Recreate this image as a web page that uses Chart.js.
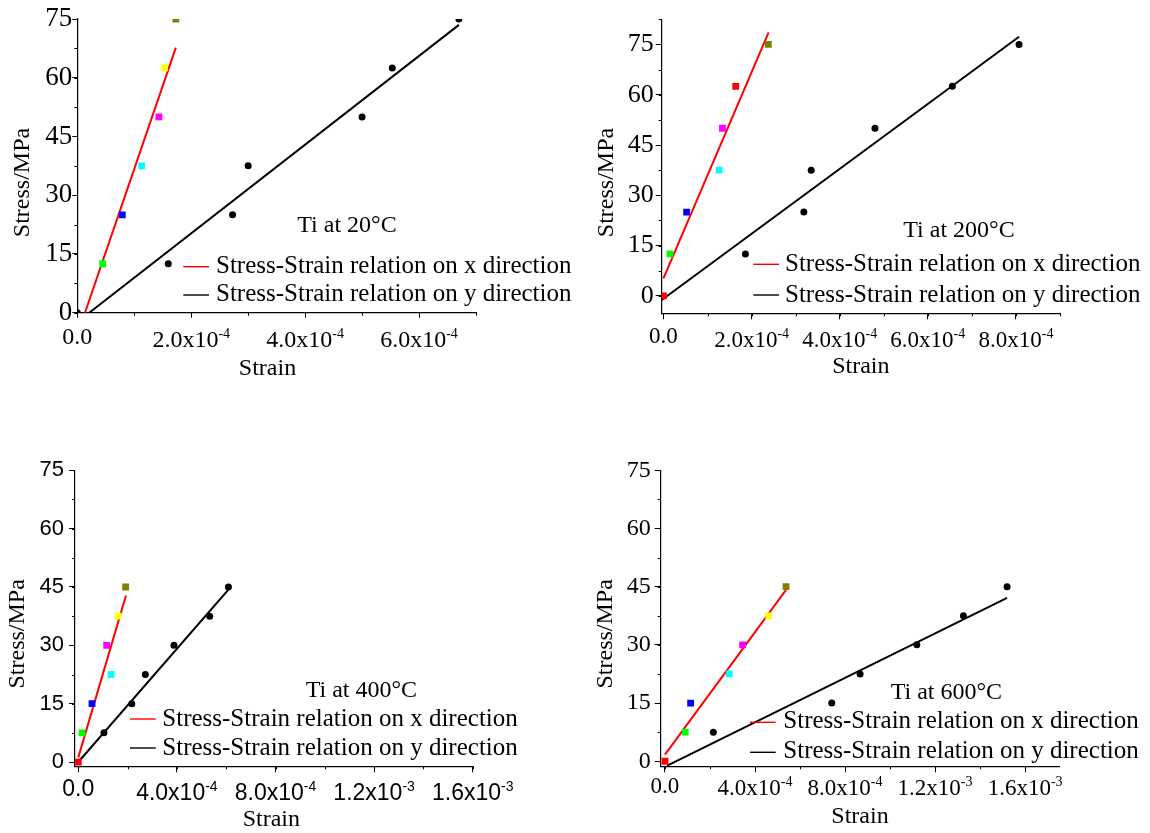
<!DOCTYPE html>
<html>
<head>
<meta charset="utf-8">
<script src="https://cdn.jsdelivr.net/npm/chart.js@4.4.1/dist/chart.umd.min.js"></script>
<style>
  html, body { margin:0; padding:0; background:#fff; }
  .panel { position:absolute; }
</style>
</head>
<body>
<div class="panel" style="left:0px;top:0px;width:575px;height:400px"><canvas id="c20"></canvas></div>
<div class="panel" style="left:580px;top:0px;width:570px;height:400px"><canvas id="c200"></canvas></div>
<div class="panel" style="left:0px;top:443px;width:575px;height:390px"><canvas id="c400"></canvas></div>
<div class="panel" style="left:580px;top:443px;width:570px;height:390px"><canvas id="c600"></canvas></div>
<script>
// Ti stress-strain, four temperatures (Origin-style panels)

const SERIF = "'Liberation Serif', 'Times New Roman', serif";
const SANS = "'Liberation Sans', Arial, sans-serif";

// --- MARKER COLOURS (Origin palette) ---
const RED = '#ff0000', GREEN = '#00ff00', BLUE = '#0000ff', CYAN = '#00ffff',
      MAGENTA = '#ff00ff', YELLOW = '#ffff00', OLIVE = '#808000', BLACK = '#000000';

const legendText = ['Stress-Strain relation on x direction', 'Stress-Strain relation on y direction'];

// --- Ti at 20°C ---
const strainX20 = [0.445e-4, 0.79e-4, 1.13e-4, 1.433e-4, 1.533e-4, 1.73e-4];
const stressX20 = [12.5, 25, 37.5, 50, 62.5, 75];
const colorsX20 = [GREEN, BLUE, CYAN, MAGENTA, YELLOW, OLIVE];
const strainY20 = [0, 1.597e-4, 2.726e-4, 3.0e-4, 5.0e-4, 5.53e-4, 6.70e-4];
const stressY20 = [0, 12.5, 25, 37.5, 50, 62.5, 75];
const fitStrainX20 = [0.135e-4, 1.73e-4], fitStressX20 = [0, 67.7];
const fitStrainY20 = [0.21e-4, 6.70e-4], fitStressY20 = [0, 73.5];
const xTicks20 = [0, 2e-4, 4e-4, 6e-4];
const xLabels20 = ['0.0', '2.0x10^-4', '4.0x10^-4', '6.0x10^-4'];
const yTicks20 = [0, 15, 30, 45, 60, 75];

// --- Ti at 200°C ---
const strainX200 = [0, 0.147e-4, 0.525e-4, 1.263e-4, 1.339e-4, 1.64e-4, 2.38e-4];
const stressX200 = [0, 12.5, 25, 37.5, 50, 62.5, 75];
const colorsX200 = [RED, GREEN, BLUE, CYAN, MAGENTA, RED, OLIVE];
const strainY200 = [1.86e-4, 3.186e-4, 3.353e-4, 4.80e-4, 6.557e-4, 8.07e-4];
const stressY200 = [12.5, 25, 37.5, 50, 62.5, 75];
const fitStrainX200 = [0, 2.387e-4], fitStressX200 = [5.2, 78.6];
const fitStrainY200 = [-0.04e-4, 8.07e-4], fitStressY200 = [-1.25, 77.3];
const xTicks200 = [0, 2e-4, 4e-4, 6e-4, 8e-4];
const xLabels200 = ['0.0', '2.0x10^-4', '4.0x10^-4', '6.0x10^-4', '8.0x10^-4'];
const yTicks200 = [0, 15, 30, 45, 60, 75];

// --- Ti at 400°C ---
const strainX400 = [0, 0.15e-4, 0.556e-4, 1.33e-4, 1.15e-4, 1.62e-4, 1.92e-4];
const stressX400 = [0, 7.5, 15, 22.5, 30, 37.5, 45];
const colorsX400 = [RED, GREEN, BLUE, CYAN, MAGENTA, YELLOW, OLIVE];
const strainY400 = [1.04e-4, 2.17e-4, 2.72e-4, 3.88e-4, 5.33e-4, 6.09e-4];
const stressY400 = [7.5, 15, 22.5, 30, 37.5, 45];
const fitStrainX400 = [0, 1.935e-4], fitStressX400 = [1.2, 42.8];
const fitStrainY400 = [0, 6.09e-4], fitStressY400 = [0, 44.3];
const xTicks400 = [0, 4e-4, 8e-4, 1.2e-3, 1.6e-3];
const xLabels400 = ['0.0', '4.0x10^-4', '8.0x10^-4', '1.2x10^-3', '1.6x10^-3'];
const yTicks400 = [0, 15, 30, 45, 60, 75];

// --- Ti at 600°C ---
const strainX600 = [0, 0.9e-4, 1.14e-4, 2.86e-4, 3.45e-4, 4.61e-4, 5.38e-4];
const stressX600 = [0, 7.5, 15, 22.5, 30, 37.5, 45];
const colorsX600 = [RED, GREEN, BLUE, CYAN, MAGENTA, YELLOW, OLIVE];
const strainY600 = [2.15e-4, 7.41e-4, 8.67e-4, 1.119e-3, 1.326e-3, 1.52e-3];
const stressY600 = [7.5, 15, 22.5, 30, 37.5, 45];
const fitStrainX600 = [0, 5.38e-4], fitStressX600 = [1.7, 44.2];
const fitStrainY600 = [0.1e-4, 1.52e-3], fitStressY600 = [-1.1, 42.1];
const xTicks600 = [0, 4e-4, 8e-4, 1.2e-3, 1.6e-3];
const xLabels600 = ['0.0', '4.0x10^-4', '8.0x10^-4', '1.2x10^-3', '1.6x10^-3'];
const yTicks600 = [0, 15, 30, 45, 60, 75];

// --- HELPERS ---
const pts = (xs, ys) => xs.map((v, i) => ({ x: v, y: ys[i] }));

// minor ticks, superscript x labels, axis titles, tag and legend
const decor = {
  id: 'decor',
  afterDraw(chart, args, o) {
    const { ctx, chartArea: a, scales: { x, y } } = chart;
    ctx.save();
    ctx.strokeStyle = '#000';
    ctx.lineWidth = 1;
    ctx.beginPath();
    for (let k = Math.ceil(x.min / o.xMinor - 1e-6); k <= Math.floor(x.max / o.xMinor + 1e-6); k++) {
      const px = Math.round(x.getPixelForValue(k * o.xMinor)) + 0.5;
      ctx.moveTo(px, a.bottom); ctx.lineTo(px, a.bottom + 3);
    }
    for (let k = Math.ceil(y.min / o.yMinor - 1e-6); k <= Math.floor(y.max / o.yMinor + 1e-6); k++) {
      const py = Math.round(y.getPixelForValue(k * o.yMinor)) + 0.5;
      ctx.moveTo(a.left - 3, py); ctx.lineTo(a.left, py);
    }
    ctx.stroke();

    // x tick labels with superscript exponent
    ctx.fillStyle = '#000';
    ctx.textAlign = 'left';
    ctx.textBaseline = 'alphabetic';
    x.ticks.forEach((t, i) => {
      const [base, sup] = o.xLabels[i].split('^');
      const px = x.getPixelForValue(t.value);
      ctx.font = o.xFont + 'px ' + o.xFamily;
      const wb = ctx.measureText(base).width;
      let ws = 0;
      if (sup) { ctx.font = o.supFont + 'px ' + o.xFamily; ws = ctx.measureText(sup).width; }
      const left = px - (wb + ws) / 2;
      const by = a.bottom + (sup ? o.xSupBase : o.xBase);
      ctx.font = o.xFont + 'px ' + o.xFamily;
      ctx.fillText(base, left, by);
      if (sup) {
        ctx.font = o.supFont + 'px ' + o.xFamily;
        ctx.fillText(sup, left + wb, by - o.supRaise);
      }
    });

    // axis titles
    ctx.font = '24px ' + SERIF;
    ctx.textAlign = 'center';
    ctx.fillText('Strain', o.xTitle[0], o.xTitle[1]);
    ctx.save();
    ctx.translate(o.yTitle[0], o.yTitle[1]);
    ctx.rotate(-Math.PI / 2);
    ctx.fillText('Stress/MPa', 0, 0);
    ctx.restore();

    // temperature tag
    ctx.textAlign = 'left';
    ctx.font = '24px ' + SERIF;
    ctx.fillText(o.tag, o.tagPos[0], o.tagPos[1]);

    // legend
    ctx.font = '25px ' + SERIF;
    [RED, BLACK].forEach((c, i) => {
      ctx.strokeStyle = c;
      ctx.lineWidth = 1.4;
      ctx.beginPath();
      ctx.moveTo(o.leg.x0, o.leg.rows[i]);
      ctx.lineTo(o.leg.x1, o.leg.rows[i]);
      ctx.stroke();
      ctx.fillText(legendText[i], o.leg.tx, o.leg.rows[i] + o.leg.dy);
    });
    ctx.restore();
  }
};

function makePanel(id, p) {
  const ctx = document.getElementById(id);
  const grid = { drawOnChartArea: false, drawTicks: true, tickLength: p.tickLen, tickColor: '#000', tickWidth: 1 };
  const border = { display: true, color: '#000', width: 1.2 };
  return new Chart(ctx, {
    type: 'scatter',
    data: {
      datasets: [
        { data: pts(p.fitSX, p.fitYX), showLine: true, borderColor: RED, borderWidth: 2, pointRadius: 0, clip: 0, order: 3 },
        { data: pts(p.fitSY, p.fitYY), showLine: true, borderColor: BLACK, borderWidth: 2, pointRadius: 0, clip: 0, order: 2 },
        { data: pts(p.sY, p.yY), pointStyle: 'circle', pointRadius: 3.5, pointBorderWidth: 0, backgroundColor: BLACK, borderColor: BLACK, clip: 0, order: 1 },
        { data: pts(p.sX, p.yX), pointStyle: 'rect', pointRadius: 4.8, pointBorderWidth: 0, backgroundColor: p.colors, borderColor: p.colors, clip: 0, order: 0 }
      ]
    },
    options: {
      responsive: true,
      maintainAspectRatio: false,
      animation: false,
      events: [],
      layout: { padding: { left: 0, top: p.area.T, right: p.w - p.area.R, bottom: 0 } },
      plugins: {
        legend: { display: false },
        tooltip: { enabled: false },
        decor: p.decor
      },
      scales: {
        x: {
          type: 'linear', min: p.xMin, max: p.xMax,
          afterBuildTicks: s => { s.ticks = p.xTicks.map(v => ({ value: v })); },
          afterFit: s => { s.height = p.h - p.area.B; },
          ticks: { display: false },
          grid, border
        },
        y: {
          type: 'linear', min: p.yMin, max: p.yMax,
          afterBuildTicks: s => { s.ticks = p.yTicks.map(v => ({ value: v })); },
          afterFit: s => { s.width = p.area.L; },
          ticks: { color: '#000', padding: p.yPad, font: { family: p.yFamily, size: p.yFont }, callback: v => String(v) },
          grid, border
        }
      }
    },
    plugins: [decor]
  });
}

// --- BUILD THE FOUR PANELS ---
makePanel('c20', {
  w: 575, h: 400, area: { L: 77.3, R: 476, T: 19, B: 312.7 },
  xMin: 0, xMax: 7e-4, yMin: 0, yMax: 75, xTicks: xTicks20, yTicks: yTicks20,
  sX: strainX20, yX: stressX20, colors: colorsX20, sY: strainY20, yY: stressY20,
  fitSX: fitStrainX20, fitYX: fitStressX20, fitSY: fitStrainY20, fitYY: fitStressY20,
  tickLen: 5, yPad: 0, yFont: 27, yFamily: SERIF,
  decor: {
    xMinor: 1e-4, yMinor: 7.5, xLabels: xLabels20, xFont: 24, supFont: 14, xFamily: SERIF,
    xBase: 31, xSupBase: 34, supRaise: 9,
    xTitle: [267.5, 375], yTitle: [29, 182.5],
    tag: 'Ti at 20°C', tagPos: [297.3, 232.3],
    leg: { x0: 183.3, x1: 209, tx: 216, rows: [266.7, 295], dy: 6 }
  }
});

makePanel('c200', {
  w: 570, h: 400, area: { L: 81.7, R: 480, T: 19.3, B: 313.3 },
  xMin: -0.04e-4, xMax: 9e-4, yMin: -5.2, yMax: 82.5, xTicks: xTicks200, yTicks: yTicks200,
  sX: strainX200, yX: stressX200, colors: colorsX200, sY: strainY200, yY: stressY200,
  fitSX: fitStrainX200, fitYX: fitStressX200, fitSY: fitStrainY200, fitYY: fitStressY200,
  tickLen: 6, yPad: 2, yFont: 26, yFamily: SERIF,
  decor: {
    xMinor: 1e-4, yMinor: 7.5, xLabels: xLabels200, xFont: 23, supFont: 14, xFamily: SERIF,
    xBase: 30, xSupBase: 33.4, supRaise: 9,
    xTitle: [280.8, 373.3], yTitle: [33, 182.5],
    tag: 'Ti at 200°C', tagPos: [323.3, 237.3],
    leg: { x0: 173.3, x1: 199, tx: 205, rows: [264.3, 295], dy: 7 }
  }
});

makePanel('c400', {
  w: 575, h: 390, area: { L: 75, R: 472.7, T: 27.3, B: 323.3 },
  xMin: -0.134e-4, xMax: 1.6e-3, yMin: -1.1, yMax: 75, xTicks: xTicks400, yTicks: yTicks400,
  sX: strainX400, yX: stressX400, colors: colorsX400, sY: strainY400, yY: stressY400,
  fitSX: fitStrainX400, fitYX: fitStressX400, fitSY: fitStrainY400, fitYY: fitStressY400,
  tickLen: 6, yPad: 5, yFont: 22, yFamily: SANS,
  decor: {
    xMinor: 2e-4, yMinor: 7.5, xLabels: xLabels400, xFont: 23, supFont: 14, xFamily: SANS,
    xBase: 30, xSupBase: 33.4, supRaise: 9,
    xTitle: [271.3, 383], yTitle: [24, 190.8],
    tag: 'Ti at 400°C', tagPos: [305.7, 254],
    leg: { x0: 130, x1: 155.7, tx: 162.3, rows: [276, 305], dy: 6.5 }
  }
});

makePanel('c600', {
  w: 570, h: 390, area: { L: 80.7, R: 479.3, T: 27.3, B: 323.3 },
  xMin: -0.19e-4, xMax: 1.752e-3, yMin: -1.3, yMax: 75, xTicks: xTicks600, yTicks: yTicks600,
  sX: strainX600, yX: stressX600, colors: colorsX600, sY: strainY600, yY: stressY600,
  fitSX: fitStrainX600, fitYX: fitStressX600, fitSY: fitStrainY600, fitYY: fitStressY600,
  tickLen: 6, yPad: 4, yFont: 24, yFamily: SERIF,
  decor: {
    xMinor: 2e-4, yMinor: 7.5, xLabels: xLabels600, xFont: 23, supFont: 14, xFamily: SERIF,
    xBase: 26.7, xSupBase: 28.4, supRaise: 9,
    xTitle: [280, 380], yTitle: [31.7, 190.8],
    tag: 'Ti at 600°C', tagPos: [310.7, 256],
    leg: { x0: 170, x1: 195.7, tx: 203.3, rows: [279.3, 309.3], dy: 5.7 }
  }
});
</script>
</body>
</html>
